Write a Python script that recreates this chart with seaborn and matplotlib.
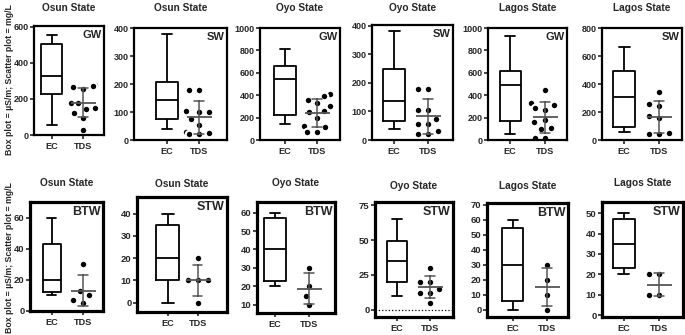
import pandas as pd
import matplotlib
matplotlib.use("Agg")
import matplotlib.pyplot as plt
import seaborn as sns

# categories
params = ["EC", "TDS"]
states = ["Osun State", "Osun State", "Oyo State", "Oyo State", "Lagos State", "Lagos State",
          "Osun State", "Osun State", "Oyo State", "Oyo State", "Lagos State", "Lagos State"]
water_types = ["GW", "SW", "GW", "SW", "GW", "SW", "BTW", "STW", "BTW", "STW", "BTW", "STW"]
ylabel = "Box plot = \u00b5S/m; Scatter plot = mg/L"

# EC box plots: min, Q1, median, Q3, max (uS/m)
osun_gw_ec = [58, 228, 330, 507, 557]
osun_sw_ec = [40, 74, 142, 208, 380]
oyo_gw_ec = [140, 224, 543, 663, 815]
oyo_sw_ec = [40, 67, 138, 248, 382]
lagos_gw_ec = [50, 173, 493, 612, 930]
lagos_sw_ec = [60, 91, 310, 496, 663]
osun_btw_ec = [10, 12, 20, 43, 60]
osun_stw_ec = [0, 10, 20, 35, 40]
oyo_btw_ec = [20, 23, 40, 57, 60]
oyo_stw_ec = [10, 20, 35, 49, 65]
lagos_btw_ec = [0, 5.5, 30, 54.5, 60]
lagos_stw_ec = [20, 23, 35, 47, 50]

# TDS scatter points (mg/L)
osun_gw_tds = [275, 270, 265, 255, 180, 175, 150, 145, 120, 95, 30]
osun_sw_tds = [180, 180, 105, 100, 100, 75, 55, 30, 25, 20, 20]
oyo_gw_tds = [410, 390, 360, 330, 300, 260, 250, 200, 125, 120, 70, 70]
oyo_sw_tds = [180, 180, 105, 105, 75, 55, 55, 30, 20, 20]
lagos_gw_tds = [450, 330, 310, 290, 270, 180, 160, 110, 100, 20, 20]
lagos_sw_tds = [340, 255, 245, 170, 160, 50, 45, 45]
osun_btw_tds = [30, 13, 10, 7, 5]
osun_stw_tds = [20, 10, 10, 10, 0]
oyo_btw_tds = [30, 20, 15, 10]
oyo_stw_tds = [30, 20, 20, 15, 12, 12, 5]
lagos_btw_tds = [30, 20, 10, 0]
lagos_stw_tds = [20, 20, 10, 10]

ec_all = [osun_gw_ec, osun_sw_ec, oyo_gw_ec, oyo_sw_ec, lagos_gw_ec, lagos_sw_ec,
          osun_btw_ec, osun_stw_ec, oyo_btw_ec, oyo_stw_ec, lagos_btw_ec, lagos_stw_ec]
tds_all = [osun_gw_tds, osun_sw_tds, oyo_gw_tds, oyo_sw_tds, lagos_gw_tds, lagos_sw_tds,
           osun_btw_tds, osun_stw_tds, oyo_btw_tds, oyo_stw_tds, lagos_btw_tds, lagos_stw_tds]

# y axis ranges and ticks
ylims = [(0, 605), (0, 400), (0, 1000), (0, 403), (0, 1000), (0, 800),
         (0, 70), (-4.2, 47.5), (5.5, 65.8), (-5.3, 77.4), (-5, 71), (-0.8, 55.4)]
ytick_steps = [200, 100, 200, 100, 200, 200, 20, 10, 10, 25, 10, 10]
ytick_starts = [0, 0, 0, 0, 0, 0, 0, 0, 10, 0, 0, 0]
ytick_ends = [600, 400, 1000, 400, 1000, 800, 60, 40, 60, 75, 70, 50]

# layout in pixels: left, top, right, bottom
W, H = 685, 335
boxes_px = [(34, 26, 104, 135), (134, 28, 227, 140), (260, 28, 340, 140),
            (372, 25, 453, 140), (488, 28, 567, 140), (602, 28, 682, 140),
            (30, 202, 103, 311), (137, 197, 227, 312), (257, 202, 335, 313),
            (375, 202, 453, 317), (487, 203, 568, 317), (602, 202, 683, 317)]
title_y_px = [8, 8, 8, 8, 8, 8, 183, 184, 183, 186, 186, 183]
xlims = [(-0.58, 1.68), (-1.03, 1.875), (-0.78, 1.72), (-0.65, 1.74), (-0.63, 1.63), (-0.63, 1.66),
         (-0.71, 1.65), (-1.03, 1.97), (-0.53, 1.76), (-0.67, 1.7), (-0.76, 1.62), (-0.63, 1.69)]
box_widths = [0.68, 0.66, 0.66, 0.65, 0.6, 0.63, 0.58, 0.77, 0.62, 0.6, 0.62, 0.63]

sns.set_style("ticks")
plt.rcParams['font.family'] = ['Liberation Sans', 'DejaVu Sans']
plt.rcParams['font.weight'] = 'bold'

fig = plt.figure(figsize=(W / 100, H / 100), dpi=100)

for i in range(12):
    row2 = i >= 6
    l, t, r, b = boxes_px[i]
    ax = fig.add_axes([l / W, 1 - b / H, (r - l) / W, (b - t) / H])

    ec_df = pd.DataFrame({"param": "EC", "value": ec_all[i]})
    tds_df = pd.DataFrame({"param": "TDS", "value": tds_all[i]})

    sns.boxplot(data=ec_df, x="param", y="value", order=params, whis=(0, 100),
                width=box_widths[i], fill=False, color="black", linewidth=1.3, ax=ax)
    # thin white rim widens the swarm spacing a little, Prism style
    sns.swarmplot(data=tds_df, x="param", y="value", order=params, color="black",
                  size=5.4, linewidth=1.5, edgecolor="white", zorder=2, ax=ax)
    sns.pointplot(data=tds_df, x="param", y="value", order=params, errorbar="sd",
                  capsize=0.3, color="#555555", markers="_", markersize=18,
                  markeredgewidth=1.3, linestyle="none", zorder=5,
                  err_kws={"linewidth": 1.1, "zorder": 5}, ax=ax)

    if water_types[i] == "STW" and states[i] == "Oyo State":
        ax.axhline(0, color="black", linestyle=":", linewidth=0.9)

    ax.set_xlim(*xlims[i])
    ax.set_ylim(*ylims[i])
    ax.set_yticks(list(range(ytick_starts[i], ytick_ends[i] + 1, ytick_steps[i])))
    ax.set_xticks([0, 1])
    ax.set_xticklabels(params)
    ax.set_xlabel("")
    ax.set_ylabel("")

    lw = 2.3 if row2 else 1.6
    for side in ["left", "right", "top", "bottom"]:
        ax.spines[side].set_visible(True)
        ax.spines[side].set_linewidth(lw)
        ax.spines[side].set_color("black")
    ax.tick_params(axis="y", length=3, width=1.2, labelsize=6.8 if row2 else 6.5, pad=1)
    ax.tick_params(axis="x", length=3, width=1.2, labelsize=6.6, pad=2)

    fig.text((l + r) / 2 / W, 1 - title_y_px[i] / H, states[i], ha="center", va="center",
             fontsize=7.3, fontweight="bold")
    ax.text(0.97, 0.965, water_types[i], transform=ax.transAxes, ha="right", va="top",
            fontsize=9 if row2 else 8, fontweight="bold")

fig.text(10 / W, 1 - 80 / H, ylabel, rotation=90, ha="center", va="center", fontsize=6.3)
fig.text(10 / W, 1 - 258 / H, ylabel, rotation=90, ha="center", va="center", fontsize=6.3)

fig.savefig("out.png", dpi=100)
